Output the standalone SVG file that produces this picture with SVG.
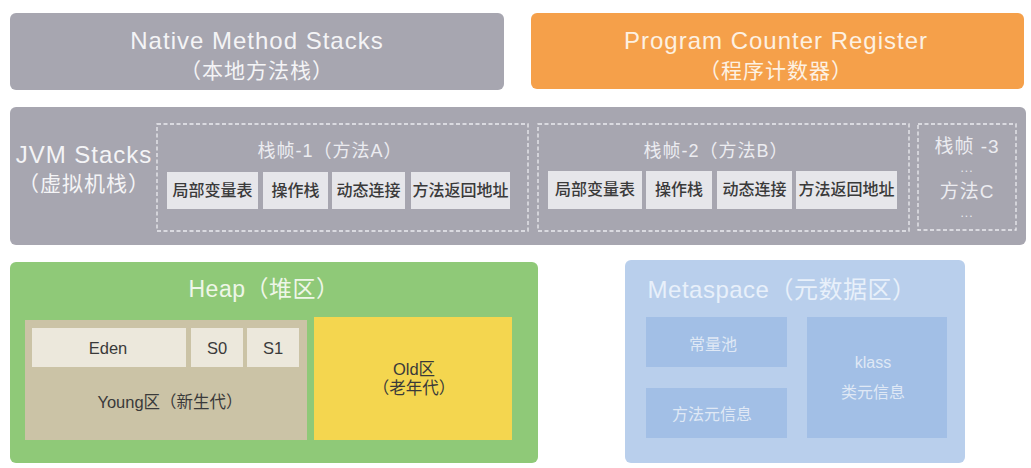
<svg xmlns="http://www.w3.org/2000/svg" width="1031" height="468" viewBox="0 0 1031 468">
<style>
text{font-family:"Liberation Sans","Noto Sans CJK SC",sans-serif;text-anchor:middle}
.gray{fill:#a7a6b0}
.big{font-size:24px;letter-spacing:1px;fill:#f4f4f6}
.mid{font-size:21px;letter-spacing:1px;fill:#f4f4f6}
.ftitle{font-size:18px;letter-spacing:1px;fill:#ececf0}
.frame{fill:none;stroke:#ececf0;stroke-width:1.3;stroke-dasharray:4 2.5}
.cell{fill:#e6e6ea}
.ct{font-size:16px;font-weight:500;fill:#3a3a3a}
.ht{font-size:16.5px;fill:#3a3a3a}
.lt{fill:#ece8dc}
.mb{fill:#a2bfe6}
.mt{font-size:16px;fill:#dfe8f5}
</style>
<rect width="1031" height="468" fill="#ffffff"/>
<g id="native">
<rect class="gray" x="10" y="13" width="494" height="77" rx="6"/>
<text class="big" x="257" y="49">Native Method Stacks</text>
<text class="mid" x="257" y="78">（本地方法栈）</text>
</g>
<g id="pc">
<rect x="531" y="13" width="493" height="76" rx="6" fill="#f5a04a"/>
<text class="big" x="776" y="49" style="fill:#fdf1e2">Program Counter Register</text>
<text class="mid" x="776" y="78" style="fill:#fdf1e2">（程序计数器）</text>
</g>
<g id="jvm">
<rect class="gray" x="10" y="107" width="1016" height="138" rx="6"/>
<text class="big" x="84" y="163">JVM Stacks</text>
<text class="mid" x="84" y="191">（虚拟机栈）</text>
</g>
<g id="frame1">
<rect class="frame" x="157" y="124" width="371" height="107"/>
<text class="ftitle" x="330" y="157">栈帧-1（方法A）</text>
<rect class="cell" x="167" y="172" width="91" height="37"/>
<text class="ct" x="212.5" y="196">局部变量表</text>
<rect class="cell" x="263" y="172" width="65" height="37"/>
<text class="ct" x="295.5" y="196">操作栈</text>
<rect class="cell" x="332" y="172" width="73" height="37"/>
<text class="ct" x="368.5" y="196">动态连接</text>
<rect class="cell" x="411" y="172" width="99" height="37"/>
<text class="ct" x="460.5" y="196">方法返回地址</text>
</g>
<g id="frame2">
<rect class="frame" x="538" y="124" width="371" height="107"/>
<text class="ftitle" x="716" y="157">栈帧-2（方法B）</text>
<rect class="cell" x="548" y="171" width="94" height="38"/>
<text class="ct" x="595" y="195">局部变量表</text>
<rect class="cell" x="646" y="171" width="66" height="38"/>
<text class="ct" x="679" y="195">操作栈</text>
<rect class="cell" x="717" y="171" width="75" height="38"/>
<text class="ct" x="754.5" y="195">动态连接</text>
<rect class="cell" x="796" y="171" width="101" height="38"/>
<text class="ct" x="846.5" y="195">方法返回地址</text>
</g>
<g id="frame3">
<rect class="frame" x="918" y="124" width="98" height="106"/>
<text class="ftitle" x="967" y="153" style="font-size:19px">栈帧 -3</text>
<text class="ftitle" x="967" y="172" style="font-size:12px">...</text>
<text class="ftitle" x="967" y="198" style="font-size:19px">方法C</text>
<text class="ftitle" x="967" y="217" style="font-size:12px">...</text>
</g>
<g id="heap">
<rect x="10" y="262" width="528" height="201" rx="6" fill="#8fc978"/>
<text x="264" y="297" style="font-size:23px;letter-spacing:0.5px;fill:#eef6e8">Heap（堆区）</text>
</g>
<g id="young">
<rect x="25" y="320" width="282" height="120" fill="#cbc3a6"/>
<text class="ht" x="170" y="408">Young区（新生代）</text>
</g>
<g id="eden">
<rect class="lt" x="32" y="328" width="154" height="39"/>
<text class="ht" x="108" y="354">Eden</text>
</g>
<g id="s0">
<rect class="lt" x="191" y="328" width="52" height="39"/>
<text class="ht" x="217" y="354">S0</text>
</g>
<g id="s1">
<rect class="lt" x="247" y="328" width="52" height="39"/>
<text class="ht" x="273" y="354">S1</text>
</g>
<g id="old">
<rect x="314" y="317" width="198" height="123" fill="#f4d64f"/>
<text class="ht" x="414" y="375">Old区</text>
<text class="ht" x="414" y="394">（老年代）</text>
</g>
<g id="metaspace">
<rect x="625" y="260" width="340" height="203" rx="6" fill="#b9cfec"/>
<text x="782" y="298" style="font-size:24px;letter-spacing:0.5px;fill:#e8f0fa">Metaspace（元数据区）</text>
</g>
<g id="pool">
<rect class="mb" x="646" y="317" width="141" height="50"/>
<text class="mt" x="713" y="350">常量池</text>
</g>
<g id="methodmeta">
<rect class="mb" x="646" y="388" width="141" height="50"/>
<text class="mt" x="712" y="420">方法元信息</text>
</g>
<g id="klass">
<rect class="mb" x="807" y="317" width="140" height="121"/>
<text class="mt" x="873" y="368">klass</text>
<text class="mt" x="873" y="398">类元信息</text>
</g>
<g id="connectors"></g>
</svg>
